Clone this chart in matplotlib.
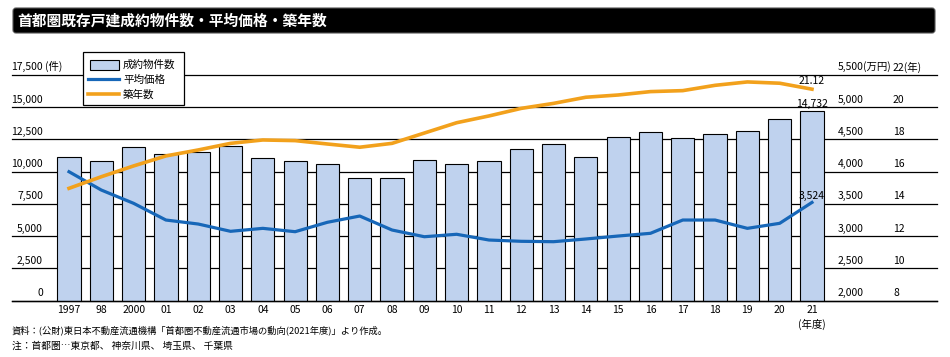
import matplotlib
matplotlib.use("Agg")
import matplotlib.pyplot as plt
from matplotlib.patches import FancyBboxPatch, Rectangle
from matplotlib.lines import Line2D
import matplotlib.transforms as mtransforms

plt.rcParams['font.family'] = ['Noto Sans CJK JP', 'DejaVu Sans']

years = ["1997", "98", "2000", "01", "02", "03", "04", "05", "06", "07", "08", "09",
         "10", "11", "12", "13", "14", "15", "16", "17", "18", "19", "20", "21"]
counts = [11120, 10810, 11890, 11350, 11510, 11970, 11040, 10810, 10580, 9510, 9510, 10890,
          10580, 10810, 11740, 12130, 11120, 12670, 13080, 12590, 12900, 13160, 14070, 14732]
price = [4000, 3716, 3510, 3251, 3189, 3076, 3122, 3070, 3216, 3313, 3096, 2992,
         3030, 2941, 2921, 2915, 2957, 3003, 3045, 3251, 3251, 3122, 3200, 3524]
age = [14.97, 15.69, 16.36, 16.98, 17.35, 17.76, 17.97, 17.93, 17.72, 17.52, 17.76, 18.40,
       19.04, 19.46, 19.93, 20.24, 20.62, 20.76, 20.97, 21.03, 21.36, 21.57, 21.49, 21.12]
left_ticks = [0, 2500, 5000, 7500, 10000, 12500, 15000, 17500]
price_ticks = [2000, 2500, 3000, 3500, 4000, 4500, 5000, 5500]
age_ticks = [8, 10, 12, 14, 16, 18, 20, 22]

title = "首都圏既存戸建成約物件数・平均価格・築年数"
legend_labels = ["成約物件数", "平均価格", "築年数"]
note1 = "資料：(公財)東日本不動産流通機構「首都圏不動産流通市場の動向(2021年度)」より作成。"
note2 = "注：首都圏…東京都、 神奈川県、 埼玉県、 千葉県"

BAR = "#bfd2ee"
BLUE = "#1767b8"
ORANGE = "#f2a11c"
W, H = 950, 357
FS = 7.5

fig = plt.figure(figsize=(W / 100, H / 100), dpi=100)

y0, y1 = 300.7, 75.0
ax = fig.add_axes([12 / W, 1 - y0 / H, 925 / W, (y0 - y1) / H])
n = len(years)
x = list(range(n))
ax.set_xlim(-(69 - 12) / 32.3, 23 + (937 - 812) / 32.3)
ax.set_ylim(0, 17500)
for s in ax.spines.values():
    s.set_visible(False)
ax.tick_params(left=False, right=False, labelleft=False, bottom=False)
ax.set_yticks([])
for t in left_ticks:
    ax.axhline(t, color="black", lw=0.9, zorder=0, clip_on=False)
ax.bar(x, counts, width=0.72, color=BAR, edgecolor="black", linewidth=0.8, zorder=2)
ax.axhline(0, color="black", lw=1.0, zorder=2.5, clip_on=False)
ax.set_xticks(x, years, fontsize=FS)
ax.tick_params(axis='x', length=0, pad=3)

ax2 = ax.twinx()
ax2.set_ylim(2000, 5500)
ax2.axis('off')
ax2.plot(x, price, color=BLUE, lw=2.3, zorder=3, solid_joinstyle='round')

ax3 = ax.twinx()
ax3.set_ylim(8, 22)
ax3.axis('off')
ax3.plot(x, age, color=ORANGE, lw=2.6, zorder=3, solid_joinstyle='round')

def up(axis, px):
    return axis.transData + mtransforms.ScaledTranslation(0, px / 100, fig.dpi_scale_trans)

# left tick labels
tl = mtransforms.blended_transform_factory(fig.transFigure, ax.transData) + \
    mtransforms.ScaledTranslation(0, 2.5 / 100, fig.dpi_scale_trans)
for t in left_ticks:
    fig.text(43 / W, t, f"{t:,}", transform=tl, ha='right', va='bottom', fontsize=FS)
fig.text(45 / W, left_ticks[-1], "(件)", transform=tl, ha='left', va='bottom', fontsize=FS)

tp = mtransforms.blended_transform_factory(fig.transFigure, ax2.transData) + \
    mtransforms.ScaledTranslation(0, 2.5 / 100, fig.dpi_scale_trans)
for t in price_ticks:
    fig.text(838 / W, t, f"{t:,}", transform=tp, ha='left', va='bottom', fontsize=FS)
fig.text(863 / W, price_ticks[-1], "(万円)", transform=tp, ha='left', va='bottom', fontsize=FS)

ta = mtransforms.blended_transform_factory(fig.transFigure, ax3.transData) + \
    mtransforms.ScaledTranslation(0, 2.5 / 100, fig.dpi_scale_trans)
for t in age_ticks:
    lab = f"{t}(年)" if t == age_ticks[-1] else f"{t}"
    fig.text(893 / W, t, lab, transform=ta, ha='left', va='bottom', fontsize=FS)

# value labels
ax.text(n - 1, counts[-1], f"{counts[-1]:,}", transform=up(ax, 1.5), ha='center', va='bottom', fontsize=FS)
ax3.text(n - 1, age[-1], f"{age[-1]:.2f}", transform=up(ax3, 3), ha='center', va='bottom', fontsize=FS)
ax2.text(n - 1, price[-1], f"{price[-1]:,}", transform=up(ax2, 1), ha='center', va='bottom', fontsize=FS)

# overlay in pixel coords
ov = fig.add_axes([0, 0, 1, 1], zorder=10)
ov.set_xlim(0, W)
ov.set_ylim(H, 0)
ov.axis('off')
ov.patch.set_alpha(0)

ov.add_patch(FancyBboxPatch((13, 8), 922, 25, boxstyle="round,pad=0,rounding_size=3",
                            facecolor="black", edgecolor="#555555", lw=0.8))
ov.text(17, 21, title, color="white", fontsize=10.6, fontweight='bold', ha='left', va='center')

# legend
ov.add_patch(Rectangle((83, 52), 101, 53, facecolor="white", edgecolor="black", lw=0.9))
ov.add_patch(Rectangle((90, 60), 29, 9.5, facecolor=BAR, edgecolor="black", lw=0.8))
ov.add_line(Line2D([88, 119], [79, 79], color=BLUE, lw=2.3))
ov.add_line(Line2D([88, 119], [94, 94], color=ORANGE, lw=2.6))
for yy, lab in zip([64.5, 79.5, 94.5], legend_labels):
    ov.text(123, yy, lab, fontsize=7.6, ha='left', va='center')

ov.text(812, 324, "(年度)", fontsize=FS, ha='center', va='center')
ov.text(12, 330, note1, fontsize=6.7, ha='left', va='center')
ov.text(12, 346, note2, fontsize=7.0, ha='left', va='center')

fig.savefig("out.png", dpi=100)
